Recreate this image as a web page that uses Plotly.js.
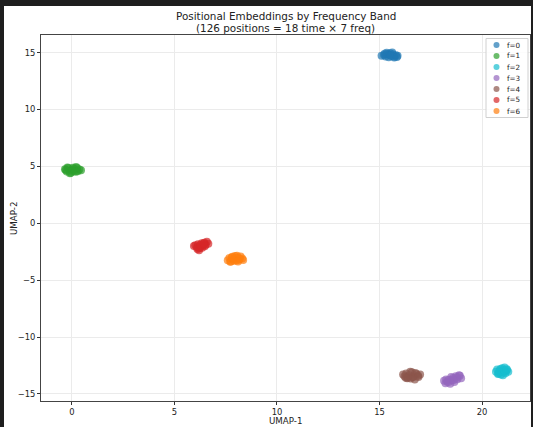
<!DOCTYPE html>
<html>
<head>
<meta charset="utf-8">
<script src="https://cdn.plot.ly/plotly-3.0.1.min.js"></script>
<style>
  html, body { margin: 0; padding: 0; background: #1e1e1e; width: 533px; height: 427px; overflow: hidden; }
  #chart { position: absolute; left: 4px; top: 6px; width: 527px; height: 421px; background: #ffffff; }
</style>
</head>
<body>
<div id="chart"></div>
<script>
// ---- data ----
const bandLabels = ["f=0", "f=1", "f=2", "f=3", "f=4", "f=5", "f=6"];
const bandColors = ["#1f77b4", "#2ca02c", "#17becf", "#9467bd", "#8c564b", "#d62728", "#ff7f0e"];

const f0x = [15.10, 15.22, 15.30, 15.38, 15.45, 15.52, 15.58, 15.65, 15.72, 15.80, 15.88, 15.35, 15.48, 15.62, 15.70, 15.25, 15.55, 15.85];
const f0y = [14.72, 14.80, 14.65, 14.88, 14.60, 14.95, 14.70, 14.85, 14.58, 14.78, 14.72, 14.98, 14.82, 15.02, 14.66, 14.90, 14.75, 14.62];

const f1x = [-0.34, -0.25, -0.18, -0.10, -0.02, 0.05, 0.12, 0.20, 0.28, 0.36, 0.44, -0.22, -0.05, 0.10, 0.25, -0.30, 0.02, 0.18];
const f1y = [4.75, 4.55, 4.85, 4.40, 4.70, 4.88, 4.62, 4.95, 4.58, 4.72, 4.66, 4.90, 4.45, 4.78, 4.85, 4.68, 4.60, 4.52];

const f2x = [20.68, 20.74, 20.80, 20.86, 20.92, 20.98, 21.04, 21.10, 21.16, 21.22, 21.28, 20.78, 20.90, 21.02, 21.14, 20.84, 21.08, 21.20];
const f2y = [-13.05, -12.85, -13.20, -12.95, -13.30, -12.75, -13.10, -12.68, -13.00, -12.90, -13.05, -13.25, -12.80, -13.35, -13.18, -13.08, -12.92, -12.82];

const f3x = [18.15, 18.22, 18.30, 18.38, 18.45, 18.52, 18.58, 18.65, 18.72, 18.80, 18.88, 18.98, 18.35, 18.50, 18.62, 18.78, 18.25, 18.92];
const f3y = [-13.85, -14.05, -13.90, -13.75, -14.10, -13.80, -13.60, -13.95, -13.45, -13.70, -13.35, -13.62, -13.98, -13.52, -13.78, -13.55, -13.72, -13.40];

const f4x = [16.15, 16.22, 16.30, 16.38, 16.45, 16.52, 16.58, 16.65, 16.72, 16.80, 16.88, 16.98, 16.35, 16.50, 16.62, 16.75, 16.28, 16.90];
const f4y = [-13.30, -13.45, -13.20, -13.55, -13.35, -13.65, -13.10, -13.50, -13.72, -13.25, -13.40, -13.30, -13.62, -13.05, -13.48, -13.15, -13.58, -13.52];

const f5x = [5.95, 6.02, 6.10, 6.15, 6.22, 6.28, 6.33, 6.40, 6.46, 6.52, 6.58, 6.65, 6.20, 6.35, 6.48, 6.12, 6.26, 6.42];
const f5y = [-2.00, -1.92, -2.10, -1.85, -2.20, -2.05, -1.75, -1.95, -1.70, -1.88, -1.62, -1.80, -2.38, -2.15, -2.02, -2.25, -1.90, -1.78];

const f6x = [7.60, 7.68, 7.75, 7.82, 7.88, 7.95, 8.02, 8.08, 8.15, 8.22, 8.30, 8.35, 7.72, 7.90, 8.05, 8.18, 7.80, 8.10];
const f6y = [-3.25, -3.05, -3.35, -2.95, -3.15, -2.88, -3.28, -3.02, -3.20, -2.92, -3.10, -3.22, -3.38, -3.30, -2.85, -3.12, -3.00, -3.36];

const xTicks = [0, 5, 10, 15, 20];
const yTicks = [-15, -10, -5, 0, 5, 10, 15];

const titleLines = ["Positional Embeddings by Frequency Band", "(126 positions = 18 time × 7 freq)"];
const xLabel = "UMAP-1";
const yLabel = "UMAP-2";

const bandX = [f0x, f1x, f2x, f3x, f4x, f5x, f6x];
const bandY = [f0y, f1y, f2y, f3y, f4y, f5y, f6y];

// ---- traces ----
const FONT = "DejaVu Sans, sans-serif";
const traces = bandLabels.map((lab, i) => ({
  type: "scatter",
  mode: "markers",
  name: lab,
  x: bandX[i],
  y: bandY[i],
  marker: { color: bandColors[i], size: 8, opacity: 0.7, line: { width: 0 } },
  showlegend: false,
  hoverinfo: "x+y+name"
}));

// ---- custom legend (matplotlib-like compact box) ----
// plot area in page pixels: x 41..530, y 35..401
const PL = 41, PR = 530, PT = 35, PB = 401;
const px2x = p => (p - PL) / (PR - PL);
const px2y = p => (PB - p) / (PB - PT);

const shapes = [];
const annotations = [];
shapes.push({
  type: "rect", xref: "paper", yref: "paper",
  x0: px2x(486), x1: px2x(528), y0: px2y(117.5), y1: px2y(38.5),
  line: { color: "#d0d0d0", width: 1 }, fillcolor: "rgba(255,255,255,0.85)", layer: "above"
});
bandLabels.forEach((lab, i) => {
  const cy = 45 + 11 * i, cx = 496.5, r = 3;
  shapes.push({
    type: "circle", xref: "paper", yref: "paper",
    x0: px2x(cx - r), x1: px2x(cx + r), y0: px2y(cy + r), y1: px2y(cy - r),
    fillcolor: bandColors[i], opacity: 0.7, line: { width: 0 }, layer: "above"
  });
  annotations.push({
    xref: "paper", yref: "paper", x: px2x(506), y: px2y(cy),
    xanchor: "left", yanchor: "middle", showarrow: false, borderpad: 0,
    text: lab, font: { family: FONT, size: 7.2, color: "#222" }
  });
});

// ---- title as two centred text lines ----
[15.5, 27.5].forEach((py, i) => {
  annotations.push({
    xref: "paper", yref: "paper", x: px2x(285.5), y: px2y(py),
    xanchor: "center", yanchor: "middle", showarrow: false, borderpad: 0,
    text: titleLines[i], font: { family: FONT, size: 10.4, color: "#222" }
  });
});

// ---- axis titles ----
annotations.push({
  xref: "paper", yref: "paper", x: px2x(285.5), y: px2y(421.5),
  xanchor: "center", yanchor: "middle", showarrow: false, borderpad: 0,
  text: xLabel, font: { family: FONT, size: 8.7, color: "#222" }
});
annotations.push({
  xref: "paper", yref: "paper", x: px2x(14), y: px2y(218),
  xanchor: "center", yanchor: "middle", showarrow: false, borderpad: 0, textangle: -90,
  text: yLabel, font: { family: FONT, size: 8.7, color: "#222" }
});

const layout = {
  width: 527, height: 421,
  margin: { l: 37, r: 1, t: 29, b: 26, pad: 0 },
  paper_bgcolor: "#ffffff",
  plot_bgcolor: "#ffffff",
  font: { family: FONT, color: "#222" },
  xaxis: {
    range: [-1.51, 22.34],
    tickvals: xTicks,
    ticks: "outside", ticklen: 3, tickwidth: 0.8, tickcolor: "#333",
    tickfont: { family: FONT, size: 8.4, color: "#222" },
    showgrid: true, gridcolor: "#ebebeb", gridwidth: 0.8,
    zeroline: false,
    showline: true, linecolor: "#444", linewidth: 0.9, mirror: true
  },
  yaxis: {
    range: [-15.62, 16.55],
    tickvals: yTicks,
    ticks: "outside", ticklen: 3, tickwidth: 0.8, tickcolor: "#333",
    tickfont: { family: FONT, size: 8.4, color: "#222" },
    showgrid: true, gridcolor: "#ebebeb", gridwidth: 0.8,
    zeroline: false,
    showline: true, linecolor: "#444", linewidth: 0.9, mirror: true
  },
  shapes: shapes,
  annotations: annotations,
  showlegend: false
};

Plotly.newPlot("chart", traces, layout, { displayModeBar: false, responsive: false });
</script>
</body>
</html>
